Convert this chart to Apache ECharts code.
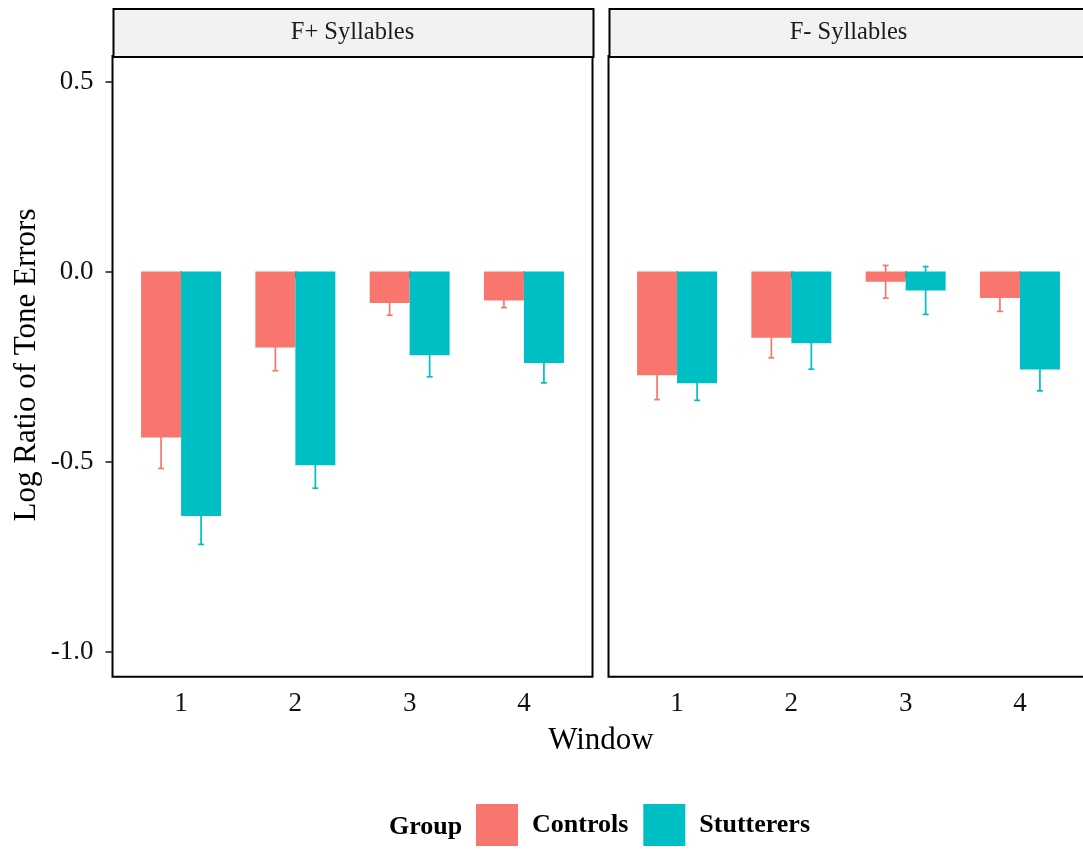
<!DOCTYPE html>
<html>
<head>
<meta charset="utf-8">
<script src="https://cdn.jsdelivr.net/npm/echarts@6/dist/echarts.min.js"></script>
<style>
html,body{margin:0;padding:0;background:#fff;overflow:hidden;width:1083px;height:850px;}
#chart{width:1092px;height:850px;}
</style>
</head>
<body>
<div id="chart"></div>
<script>
// ---- data ----
const windows = [1, 2, 3, 4];
const groups = ['Controls', 'Stutterers'];
const panels = ['F+ Syllables', 'F- Syllables'];
const yTicks = [-1.0, -0.5, 0.0, 0.5];

// F+ Syllables
const fPlusControlsMean = [-0.437, -0.200, -0.083, -0.076];
const fPlusControlsSE   = [0.081, 0.061, 0.032, 0.019];
const fPlusStutterMean  = [-0.643, -0.510, -0.220, -0.241];
const fPlusStutterSE    = [0.075, 0.060, 0.057, 0.052];
// F- Syllables
const fMinusControlsMean = [-0.273, -0.174, -0.027, -0.070];
const fMinusControlsSE   = [0.064, 0.053, 0.043, 0.035];
const fMinusStutterMean  = [-0.294, -0.189, -0.050, -0.258];
const fMinusStutterSE    = [0.045, 0.068, 0.063, 0.056];

const colors = {Controls: '#F8766D', Stutterers: '#00BFC4'};
const FONT = '"Liberation Serif", "DejaVu Serif", serif';

const dodge = 0.175, halfW = 0.175, capHalf = 0.026;

function makeData(means, ses, offset) {
  return windows.map((w, i) => [w + offset, means[i], ses[i]]);
}

function renderItem(params, api) {
  const x = api.value(0), v = api.value(1), se = api.value(2);
  const p0 = api.coord([x - halfW, 0]);
  const p1 = api.coord([x + halfW, v]);
  const top = api.coord([x, v + se]);
  const bot = api.coord([x, v - se]);
  const cl = api.coord([x - capHalf, v + se]);
  const cr = api.coord([x + capHalf, v + se]);
  const bl = api.coord([x - capHalf, v - se]);
  const br = api.coord([x + capHalf, v - se]);
  const color = api.visual('color');
  const y0 = Math.min(p0[1], p1[1]), y1 = Math.max(p0[1], p1[1]);
  return {
    type: 'group',
    children: [
      {type: 'rect', shape: {x: p0[0], y: y0, width: p1[0] - p0[0], height: y1 - y0},
       style: {fill: color}},
      {type: 'line', shape: {x1: top[0], y1: top[1], x2: bot[0], y2: bot[1]},
       style: {stroke: color, lineWidth: 1.7}},
      {type: 'line', shape: {x1: cl[0], y1: cl[1], x2: cr[0], y2: cr[1]},
       style: {stroke: color, lineWidth: 1.7}},
      {type: 'line', shape: {x1: bl[0], y1: bl[1], x2: br[0], y2: br[1]},
       style: {stroke: color, lineWidth: 1.7}}
    ]
  };
}

const gridTop = 56, gridH = 620.7, gridW = 480;
const gridLefts = [112.5, 608.5];

const grids = gridLefts.map(l => ({
  left: l, top: gridTop, width: gridW, height: gridH,
  show: true, borderColor: '#000', borderWidth: 2, backgroundColor: 'transparent'
}));

const xAxes = gridLefts.map((l, i) => ({
  type: 'value', gridIndex: i, min: 0.4, max: 4.6,
  axisLine: {show: false},
  splitLine: {show: false},
  axisTick: {show: true, customValues: windows, length: 7, lineStyle: {color: '#222', width: 1.6}},
  axisLabel: {show: true, customValues: windows, margin: 14, fontSize: 27, fontFamily: FONT, color: '#111',
              formatter: v => String(v)}
}));

const yAxes = gridLefts.map((l, i) => ({
  type: 'value', gridIndex: i, min: -1.066, max: 0.567,
  axisLine: {show: false},
  splitLine: {show: false},
  axisTick: {show: i === 0, customValues: yTicks, length: 7, lineStyle: {color: '#222', width: 1.6}},
  axisLabel: {show: i === 0, customValues: yTicks, margin: 19, fontSize: 27, fontFamily: FONT, color: '#111',
              formatter: v => v.toFixed(1)}
}));

const seriesDefs = [
  {name: 'Controls', panel: 0, means: fPlusControlsMean, ses: fPlusControlsSE, off: -dodge},
  {name: 'Stutterers', panel: 0, means: fPlusStutterMean, ses: fPlusStutterSE, off: dodge},
  {name: 'Controls', panel: 1, means: fMinusControlsMean, ses: fMinusControlsSE, off: -dodge},
  {name: 'Stutterers', panel: 1, means: fMinusStutterMean, ses: fMinusStutterSE, off: dodge}
];

const series = seriesDefs.map(d => ({
  type: 'custom', name: d.name, xAxisIndex: d.panel, yAxisIndex: d.panel,
  itemStyle: {color: colors[d.name]},
  renderItem: renderItem,
  data: makeData(d.means, d.ses, d.off),
  encode: {x: 0, y: 1},
  silent: true, animation: false
}));

const graphics = [];
gridLefts.forEach((l, i) => {
  graphics.push({type: 'rect', left: l, top: 8, z: 10,
    shape: {x: 0, y: 0, width: gridW, height: gridTop - 8},
    style: {fill: '#F2F2F2', stroke: '#000', lineWidth: 2}});
  graphics.push({type: 'text', x: l + gridW / 2, y: 33, z: 11,
    style: {text: panels[i], font: '24.5px ' + FONT, fill: '#1A1A1A', align: 'center', verticalAlign: 'middle'}});
});
graphics.push({type: 'text', x: 27, y: 365, rotation: Math.PI / 2, z: 11,
  style: {text: 'Log Ratio of Tone Errors', font: '31px ' + FONT, fill: '#000', align: 'center', verticalAlign: 'middle'}});
graphics.push({type: 'text', x: 601, y: 741, z: 11,
  style: {text: 'Window', font: '31px ' + FONT, fill: '#000', align: 'center', verticalAlign: 'middle'}});
graphics.push({type: 'text', x: 389, y: 827, z: 11,
  style: {text: 'Group', font: 'bold 26px ' + FONT, fill: '#000', align: 'left', verticalAlign: 'middle'}});

const option = {
  backgroundColor: '#fff',
  animation: false,
  grid: grids,
  xAxis: xAxes,
  yAxis: yAxes,
  legend: {
    data: groups, left: 476, top: 804, orient: 'horizontal', padding: 0,
    icon: 'rect', itemWidth: 42, itemHeight: 42, itemGap: 15,
    textStyle: {fontSize: 26, fontWeight: 'bold', fontFamily: FONT, color: '#000', padding: [6, 0, 0, 9]},
    selectedMode: false
  },
  graphic: graphics,
  series: series
};

const chart = echarts.init(document.getElementById('chart'), null, {renderer: 'canvas'});
chart.setOption(option);
</script>
</body>
</html>
